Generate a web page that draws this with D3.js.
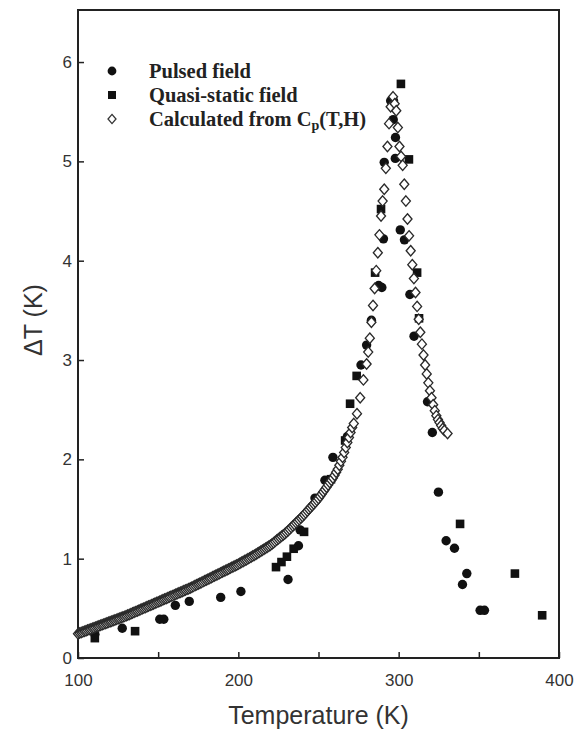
<!DOCTYPE html>
<meta charset="utf-8">
<head>
  <script src="https://d3js.org/d3.v7.min.js"></script>
  <style>
    body { margin: 0; background: #fff; }
    .tick text { font-family: "Liberation Sans", Arial, sans-serif; font-size: 17px; fill: #333; }
    .tick line { stroke: #222; stroke-width: 1.5; }
  </style>
</head>
<body>
<div id="chart"></div>
<script>
// pulsed field (filled circles)
var pulsedT  = [110.5, 127.6, 151, 153.5, 160.7, 169.4, 189, 201.6, 231, 237.5, 238.5, 247.8, 254, 259, 268, 276.5, 280, 283, 287.5,
                289.5, 290.5, 291, 295, 296.6, 296.8, 297.9, 298, 301, 303.6, 307, 309.6, 318, 321, 324.8, 329.6, 334.8, 339.8, 342.5, 350.8, 353.5];
var pulsedDT = [0.24, 0.30, 0.39, 0.39, 0.53, 0.57, 0.61, 0.67, 0.79, 1.13, 1.29, 1.61, 1.79, 2.02, 2.23, 2.95, 3.15, 3.40, 3.75,
                3.73, 4.22, 4.99, 5.61, 5.42, 5.61, 5.03, 5.24, 4.31, 4.21, 3.66, 3.24, 2.58, 2.27, 1.67, 1.18, 1.105, 0.74, 0.85, 0.48, 0.48];

// quasi-static field (filled squares)
var quasiT  = [110.5, 135.6, 223.5, 226.9, 230.3, 234.5, 241, 257.8, 266.6, 269.7, 273.8, 285.3, 289, 301.4, 306.4, 311.5, 312.7, 338.3, 372.5, 389.5];
var quasiDT = [0.20, 0.27, 0.915, 0.966, 1.02, 1.10, 1.27, 1.80, 2.19, 2.56, 2.84, 3.88, 4.52, 5.78, 5.02, 3.88, 3.42, 1.35, 0.85, 0.43];

// calculated from Cp(T,H) (open diamonds)
var calcT = [
  100, 101, 102, 103, 104, 105, 106, 107, 108, 109,
  110, 111, 112, 113, 114, 115, 116, 117, 118, 119,
  120, 121, 122, 123, 124, 125, 126, 127, 128, 129,
  130, 131, 132, 133, 134, 135, 136, 137, 138, 139,
  140, 141, 142, 143, 144, 145, 146, 147, 148, 149,
  150, 151, 152, 153, 154, 155, 156, 157, 158, 159,
  160, 161, 162, 163, 164, 165, 166, 167, 168, 169,
  170, 171, 172, 173, 174, 175, 176, 177, 178, 179,
  180, 181, 182, 183, 184, 185, 186, 187, 188, 189,
  190, 191, 192, 193, 194, 195, 196, 197, 198, 199,
  200, 201, 202, 203, 204, 205, 206, 207, 208, 209,
  210, 211, 212, 213, 214, 215, 216, 217, 218, 219,
  220, 221, 222, 223, 224, 225, 226, 227, 228, 229,
  230, 231, 232, 233, 234, 235, 236, 237, 238, 239,
  240, 241, 242, 243, 244, 245, 246, 247, 248, 249,
  250, 251, 252, 253, 254, 255, 256, 257, 258, 259,
  260, 261, 262, 263, 264, 265, 266, 267, 268, 269,
  270, 271, 272, 274, 276, 278, 280, 281, 282, 283,
  284, 285, 286, 287, 288, 289, 290, 291, 292, 293,
  294, 295, 296.5, 297.5, 298.5, 299.5, 300.5, 301.5, 302.5, 303.5,
  304.5, 305.5, 306.5, 307.5, 308.5, 309.5, 310.5, 311.5, 312.5, 313.5,
  314.5, 315.5, 316.5, 317.5, 318.5, 319.5, 320.5, 321.5, 322.5, 323.5,
  324.5, 325.5, 326.5, 327.5, 328.5, 330.5
];
var calcDT = [
  0.245, 0.251, 0.257, 0.263, 0.269, 0.275, 0.281, 0.287, 0.293, 0.299,
  0.305, 0.311, 0.317, 0.323, 0.329, 0.335, 0.341, 0.347, 0.353, 0.359,
  0.365, 0.371, 0.377, 0.383, 0.389, 0.395, 0.401, 0.407, 0.413, 0.419,
  0.425, 0.432, 0.439, 0.446, 0.453, 0.460, 0.467, 0.474, 0.481, 0.488,
  0.495, 0.502, 0.509, 0.516, 0.523, 0.530, 0.537, 0.544, 0.551, 0.558,
  0.565, 0.572, 0.579, 0.586, 0.593, 0.600, 0.607, 0.614, 0.621, 0.628,
  0.635, 0.642, 0.649, 0.656, 0.663, 0.670, 0.677, 0.684, 0.691, 0.698,
  0.705, 0.713, 0.721, 0.729, 0.737, 0.745, 0.753, 0.761, 0.769, 0.777,
  0.785, 0.793, 0.801, 0.809, 0.817, 0.825, 0.833, 0.841, 0.849, 0.857,
  0.865, 0.873, 0.881, 0.889, 0.897, 0.905, 0.913, 0.921, 0.929, 0.937,
  0.945, 0.954, 0.963, 0.972, 0.981, 0.990, 0.999, 1.008, 1.017, 1.026,
  1.035, 1.045, 1.055, 1.065, 1.075, 1.085, 1.095, 1.105, 1.115, 1.125,
  1.135, 1.148, 1.161, 1.174, 1.187, 1.200, 1.213, 1.226, 1.239, 1.252,
  1.265, 1.281, 1.297, 1.313, 1.329, 1.345, 1.361, 1.377, 1.393, 1.409,
  1.425, 1.443, 1.461, 1.479, 1.497, 1.515, 1.533, 1.551, 1.569, 1.587,
  1.605, 1.628, 1.651, 1.674, 1.697, 1.720, 1.743, 1.766, 1.789, 1.812,
  1.84, 1.87, 1.90, 1.94, 1.98, 2.02, 2.07, 2.12, 2.17, 2.22,
  2.27, 2.32, 2.36, 2.46, 2.62, 2.80, 2.96, 3.08, 3.22, 3.38,
  3.55, 3.72, 3.90, 4.08, 4.26, 4.45, 4.60, 4.72, 4.93, 5.15,
  5.38, 5.55, 5.65, 5.58, 5.51, 5.34, 5.15, 5.05, 4.96, 4.77,
  4.60, 4.42, 4.25, 4.10, 3.96, 3.82, 3.68, 3.54, 3.41, 3.28,
  3.16, 3.05, 2.95, 2.86, 2.77, 2.69, 2.62, 2.55, 2.49, 2.44,
  2.40, 2.37, 2.34, 2.31, 2.29, 2.26
];

var xTicks = [100, 150, 200, 250, 300, 350, 400];
var xLabels = [100, 200, 300, 400];
var yTicks = [0, 1, 2, 3, 4, 5, 6];

var legendNames = ["Pulsed field", "Quasi-static field", "Calculated from C"];

var W = 575, H = 731;
var plotL = 78, plotR = 559, plotT = 10, plotB = 658;

var svg = d3.select("#chart").append("svg")
  .attr("width", W).attr("height", H);

svg.append("rect").attr("width", W).attr("height", H).attr("fill", "#fff");

var x = d3.scaleLinear().domain([100, 400]).range([plotL, plotR]);
var y = d3.scaleLinear().domain([0, 6.524]).range([plotB, plotT]);

var xAxis = svg.append("g")
  .attr("transform", "translate(0," + plotB + ")")
  .call(d3.axisBottom(x)
    .tickValues(xTicks)
    .tickSize(-6)
    .tickPadding(16)
    .tickFormat(function (d) { return xLabels.indexOf(d) >= 0 ? d : ""; }));
xAxis.select(".domain").remove();

var yAxis = svg.append("g")
  .attr("transform", "translate(" + plotL + ",0)")
  .call(d3.axisLeft(y)
    .tickValues(yTicks)
    .tickSize(-6)
    .tickPadding(6)
    .tickFormat(d3.format("d")));
yAxis.select(".domain").remove();

svg.append("rect")
  .attr("x", plotL).attr("y", plotT)
  .attr("width", plotR - plotL).attr("height", plotB - plotT)
  .attr("fill", "none").attr("stroke", "#222").attr("stroke-width", 2);

var diamond = "M0,-5.2L4.5,0L0,5.2L-4.5,0Z";

var pulsed = pulsedT.map(function (t, i) { return [t, pulsedDT[i]]; });
var quasi = quasiT.map(function (t, i) { return [t, quasiDT[i]]; });
var calc = calcT.map(function (t, i) { return [t, calcDT[i]]; });

svg.append("g").selectAll("circle")
  .data(pulsed).enter().append("circle")
  .attr("cx", function (d) { return x(d[0]); })
  .attr("cy", function (d) { return y(d[1]); })
  .attr("r", 4.7)
  .attr("fill", "#111");

svg.append("g").selectAll("rect")
  .data(quasi).enter().append("rect")
  .attr("x", function (d) { return x(d[0]) - 4.3; })
  .attr("y", function (d) { return y(d[1]) - 4.3; })
  .attr("width", 8.6).attr("height", 8.6)
  .attr("fill", "#111");

svg.append("g").selectAll("path")
  .data(calc).enter().append("path")
  .attr("transform", function (d) { return "translate(" + x(d[0]) + "," + y(d[1]) + ")"; })
  .attr("d", diamond)
  .attr("fill", "#fff")
  .attr("stroke", "#2a2a2a")
  .attr("stroke-width", 1.35);

// legend
var lg = svg.append("g");
var rowY = [71, 95, 119];
lg.append("circle").attr("cx", 112).attr("cy", rowY[0]).attr("r", 4.4).attr("fill", "#111");
lg.append("rect").attr("x", 108).attr("y", rowY[1] - 4).attr("width", 8).attr("height", 8).attr("fill", "#111");
lg.append("path").attr("transform", "translate(112," + rowY[2] + ")").attr("d", "M0,-4.6L4,0L0,4.6L-4,0Z")
  .attr("fill", "#fff").attr("stroke", "#333").attr("stroke-width", 1.3);

legendNames.forEach(function (name, i) {
  var t = lg.append("text")
    .attr("x", 149).attr("y", rowY[i] + 6.5)
    .style("font-family", "'Liberation Serif', 'Times New Roman', serif")
    .style("font-weight", "bold")
    .style("font-size", "20.5px")
    .style("fill", "#222")
    .text(name);
  if (i === 2) {
    t.append("tspan").attr("dy", 4).style("font-size", "14px").text("p");
    t.append("tspan").attr("dy", -4).text("(T,H)");
  }
});

// axis titles
svg.append("text")
  .attr("x", (plotL + plotR) / 2).attr("y", 724)
  .attr("text-anchor", "middle")
  .style("font-family", "'Liberation Sans', Arial, sans-serif")
  .style("font-size", "25px")
  .style("fill", "#333")
  .text("Temperature (K)");

svg.append("text")
  .attr("transform", "translate(42,320) rotate(-90)")
  .attr("text-anchor", "middle")
  .style("font-family", "'Liberation Sans', Arial, sans-serif")
  .style("font-size", "25px")
  .style("fill", "#333")
  .text("ΔT (K)");
</script>
</body>
</html>
